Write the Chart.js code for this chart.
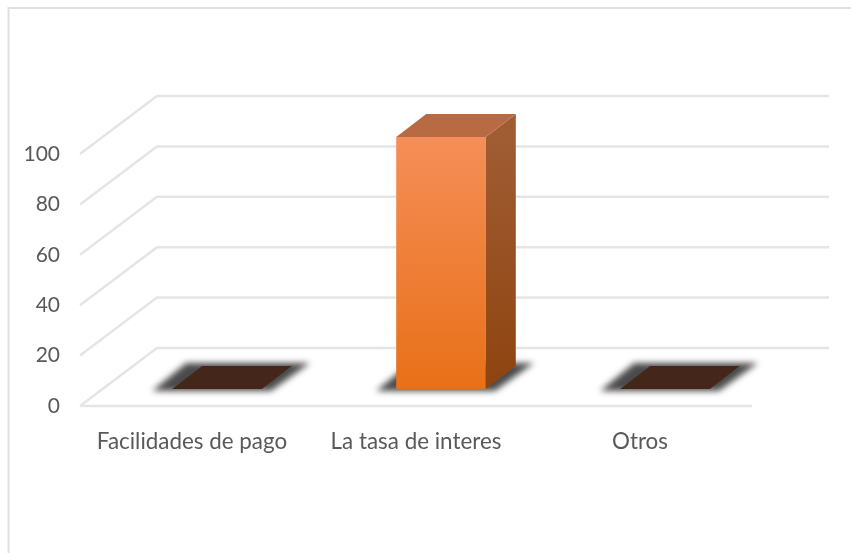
<!DOCTYPE html>
<html>
<head>
<meta charset="utf-8">
<style>
  html,body{margin:0;padding:0;background:#fff;}
  canvas{display:block;}
</style>
<script src="https://cdn.jsdelivr.net/npm/chart.js@4"></script>
</head>
<body>
<canvas id="chart" width="851" height="553"></canvas>
<script>
// ================= DATA =================
const categories = ["Facilidades de pago", "La tasa de interes", "Otros"];
const values = [0, 100, 0];
const yTicks = [0, 20, 40, 60, 80, 100];

// ================= 3D LOOK =================
const wallDx = 77, wallDy = -58;    // floor depth, front edge to back wall
const barDx = 25, barDy = -17;      // where the bar front sits on the floor
const depthDx = 30, depthDy = -23;  // bar depth
const gridColor = "#E5E5E5";

function gradient(ctx, y0, y1, c0, c1){
    const g = ctx.createLinearGradient(0, y0, 0, y1);
    g.addColorStop(0, c0);
    g.addColorStop(1, c1);
    return g;
}

function poly(ctx, pts, fill){
    ctx.beginPath();
    pts.forEach((p, i) => i ? ctx.lineTo(p[0], p[1]) : ctx.moveTo(p[0], p[1]));
    ctx.closePath();
    ctx.fillStyle = fill;
    ctx.fill();
}

const frame3d = {
    id: "frame3d",
    beforeDatasetsDraw(chart){
        const ctx = chart.ctx, y = chart.scales.y, area = chart.chartArea;
        ctx.save();

        // outer frame, only top and left are in the picture
        ctx.strokeStyle = "#E0E0E0";
        ctx.lineWidth = 2;
        ctx.beginPath();
        ctx.moveTo(8.5, 553);
        ctx.lineTo(8.5, 8);
        ctx.lineTo(851, 8);
        ctx.stroke();

        // wall lines and their slanted side parts
        ctx.strokeStyle = gridColor;
        ctx.lineWidth = 2.5;
        yTicks.forEach(t => {
            const py = y.getPixelForValue(t);
            ctx.beginPath();
            ctx.moveTo(area.left, py);
            ctx.lineTo(area.left + wallDx, py + wallDy);
            ctx.lineTo(area.right + wallDx, py + wallDy);
            ctx.stroke();
        });

        // front edge of the floor
        ctx.beginPath();
        ctx.moveTo(area.left, y.getPixelForValue(0));
        ctx.lineTo(area.right, y.getPixelForValue(0));
        ctx.stroke();

        // soft shadow under each bar
        const meta = chart.getDatasetMeta(0);
        meta.data.forEach(bar => {
            const l = bar.x - bar.width / 2 + barDx;
            const r = bar.x + bar.width / 2 + barDx;
            const b = bar.base + barDy;
            ctx.save();
            ctx.filter = "blur(3px)";
            poly(ctx, [[l - 20, b + 2], [r + 9, b + 2], [r + 48, b - 26], [l + 14, b - 26]], "#4A4A4A");
            ctx.restore();
        });
        ctx.restore();

        ctx.save();
        ctx.translate(barDx, barDy);
    },
    afterDatasetsDraw(chart){
        const ctx = chart.ctx;
        ctx.restore();

        const meta = chart.getDatasetMeta(0);
        meta.data.forEach((bar, i) => {
            const l = bar.x - bar.width / 2 + barDx;
            const r = bar.x + bar.width / 2 + barDx;
            const top = bar.y + barDy;
            const b = bar.base + barDy;
            const flat = values[i] === 0;

            if(!flat){
                poly(ctx, [[r, top], [r + depthDx, top + depthDy], [r + depthDx, b + depthDy], [r, b]],
                    gradient(ctx, top, b, "#A05C33", "#8E4410"));
            }
            poly(ctx, [[l, top], [r, top], [r + depthDx, top + depthDy], [l + depthDx, top + depthDy]],
                flat ? "#44261A" : "#B86B43");
        });
    }
};

// ================= CHART =================
new Chart(document.getElementById("chart").getContext("2d"), {
    type: "bar",
    data: {
        labels: categories,
        datasets: [{
            data: values,
            barPercentage: 0.4,
            categoryPercentage: 1,
            backgroundColor: c => {
                const a = c.chart.chartArea;
                if(!a) return "#F47B2E";
                return gradient(c.chart.ctx, a.top, a.bottom, "#F58E58", "#E87018");
            }
        }]
    },
    options: {
        responsive: false,
        animation: false,
        layout: {padding: {top: 154, right: 99}},
        plugins: {legend: {display: false}, tooltip: {enabled: false}},
        scales: {
            x: {
                grid: {display: false},
                border: {display: false},
                afterFit: s => { s.height = 147; },
                ticks: {color: "#595959", font: {family: "Lato", size: 22.4}, padding: 14, maxRotation: 0}
            },
            y: {
                min: 0,
                max: 100,
                afterFit: s => { s.width = 80; },
                grid: {display: false},
                border: {display: false},
                ticks: {
                    stepSize: 20,
                    color: "#595959",
                    font: {family: "Lato", size: 21},
                    padding: 12
                }
            }
        }
    },
    plugins: [frame3d]
});
</script>
</body>
</html>
